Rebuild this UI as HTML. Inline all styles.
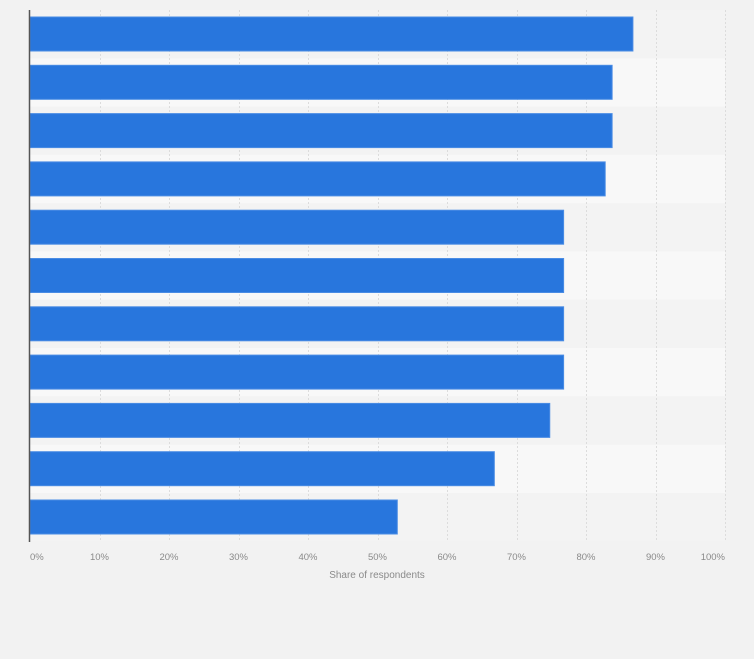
<!DOCTYPE html>
<html><head><meta charset="utf-8"><style>
body{margin:0;background:#f2f2f2;}
</style></head><body>
<svg width="754" height="659" xmlns="http://www.w3.org/2000/svg" style="display:block;font-family:'Liberation Sans',sans-serif">
<rect width="754" height="659" fill="#f2f2f2"/>
<g id="bands"></g>
<g id="grid" stroke="#dcdcdc" stroke-dasharray="2,2" stroke-width="1"></g>
<g id="bars"></g>
<line x1="29.5" y1="10" x2="29.5" y2="542" stroke="#555" stroke-width="1.5"/>
<g id="labels" font-size="9.5" fill="#8a8a8a"></g>
<text x="377" y="578" font-size="10" fill="#8a8a8a" text-anchor="middle">Share of respondents</text>
</svg>
<script>
var ns="http://www.w3.org/2000/svg";
function el(p,t,a,txt){var e=document.createElementNS(ns,t);for(var k in a)e.setAttribute(k,a[k]);if(txt)e.textContent=txt;document.getElementById(p).appendChild(e);}
var vals=[87,84,84,83,77,77,77,77,75,67,53];
var x0=30,sc=6.93,rh=48.3;
for(var i=0;i<11;i++){
 el("bands","rect",{x:30,y:10+rh*i,width:695,height:rh,fill:i%2?"#f8f8f8":"#f3f3f3"});
 el("bars","rect",{x:30,y:10+rh*i+7,width:vals[i]*sc,height:34,fill:"#2876dd",stroke:"#4a8ce4","stroke-width":1});
}
for(var j=1;j<=10;j++){var x=Math.round(x0+j*69.5)+0.5;el("grid","line",{x1:x,y1:10,x2:x,y2:542});}
for(var j=0;j<=10;j++){var x=x0+j*69.5;var anc="middle";if(j==0){anc="start";}if(j==10){anc="end";}
 el("labels","text",{x:x,y:560,"text-anchor":anc},j*10+"%");}
</script>
</body></html>
